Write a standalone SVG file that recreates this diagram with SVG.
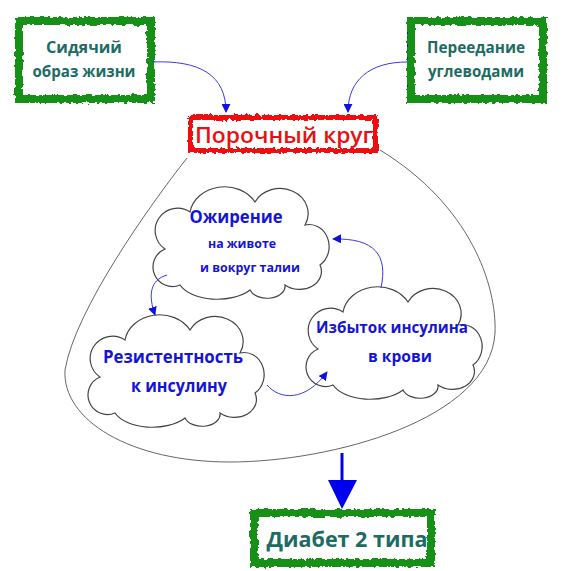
<svg xmlns="http://www.w3.org/2000/svg" xmlns:xlink="http://www.w3.org/1999/xlink" width="563" height="571" viewBox="0 0 563 571">
<defs>
<filter id="rough" x="-10%" y="-20%" width="120%" height="140%">
<feTurbulence type="fractalNoise" baseFrequency="0.25" numOctaves="2" seed="3" result="n"/>
<feDisplacementMap in="SourceGraphic" in2="n" scale="5" xChannelSelector="R" yChannelSelector="G"/>
</filter>
<marker id="ah" viewBox="0 0 10 10" refX="9" refY="5" markerWidth="9" markerHeight="9" markerUnits="userSpaceOnUse" orient="auto">
<path d="M0,0 L10,5 L0,10 Z" fill="#1010e0"/>
</marker>
<path id="cloud" d="M15,62 A22,22 0 0 1 40,25 A35,30 0 0 1 105,15 A28,25 0 0 1 155,38 A20,22 0 0 1 170,78 A22,18 0 0 1 135,98 A18,12 0 0 1 100,103 A40,22 0 0 1 30,98 A18,18 0 0 1 15,62 Z"/>
</defs>
<style>
.gbox{fill:none;stroke:#149014;stroke-width:8;filter:url(#rough)}
.rbox{fill:none;stroke:#f01010;stroke-width:5;filter:url(#rough)}
.gt{font-family:"Open Sans","Noto Sans",sans-serif;font-weight:bold;fill:#1d6b62;text-anchor:middle}
.bt{font-family:"Open Sans","Noto Sans",sans-serif;font-weight:bold;fill:#1414d4;text-anchor:middle}
.cl{fill:#fff;stroke:#444;stroke-width:1.2}
.con{fill:none;stroke:#3a3ae0;stroke-width:1}
</style>
<rect width="563" height="571" fill="#fff"/>
<g id="outline">
<path d="M187,158 C150,205 75,310 65,370 C62,420 130,462 230,462 C330,462 490,420 495,333 C497,285 470,205 380,150" fill="none" stroke="#555" stroke-width="0.9"/>
</g>
<g id="sidyachiy">
<rect x="19" y="21" width="132" height="78" fill="#fff"/>
<rect class="gbox" x="19" y="21" width="132" height="78"/>
<text class="gt" x="84" y="53" font-size="16" textLength="76" lengthAdjust="spacingAndGlyphs">Сидячий</text>
<text class="gt" x="84" y="77" font-size="16" textLength="103" lengthAdjust="spacingAndGlyphs">образ жизни</text>
</g>
<g id="pereedanie">
<line x1="408" y1="30" x2="408" y2="97" stroke="#1010e0" stroke-width="2"/>
<rect class="gbox" x="411" y="21" width="132" height="78" fill="#fff"/>
<text class="gt" x="476" y="53" font-size="16" textLength="98" lengthAdjust="spacingAndGlyphs">Переедание</text>
<text class="gt" x="476" y="77" font-size="16" textLength="96" lengthAdjust="spacingAndGlyphs">углеводами</text>
</g>
<g id="porochny">
<rect x="190.5" y="117.5" width="185" height="33" fill="#fff"/>
<rect class="rbox" x="190.5" y="117.5" width="185" height="33"/>
<text x="284" y="143" font-size="22" font-family="'Open Sans','Noto Sans',sans-serif" font-weight="600" fill="#e81010" text-anchor="middle" textLength="178" lengthAdjust="spacingAndGlyphs">Порочный круг</text>
</g>
<g id="ozhirenie">
<use href="#cloud" class="cl" transform="translate(150,187)"/>
<text class="bt" x="236" y="223" font-size="17.5" textLength="93" lengthAdjust="spacingAndGlyphs">Ожирение</text>
<text class="bt" x="242" y="248" font-size="13" textLength="68" lengthAdjust="spacingAndGlyphs">на животе</text>
<text class="bt" x="250" y="272" font-size="13" textLength="100" lengthAdjust="spacingAndGlyphs">и вокруг талии</text>
</g>
<g id="rezistentnost">
<use href="#cloud" class="cl" transform="translate(85,315)"/>
<text class="bt" x="173" y="363" font-size="18" textLength="140" lengthAdjust="spacingAndGlyphs">Резистентность</text>
<text class="bt" x="179" y="392" font-size="18" textLength="96" lengthAdjust="spacingAndGlyphs">к инсулину</text>
</g>
<g id="izbytok">
<use href="#cloud" class="cl" transform="translate(303,287)"/>
<text class="bt" x="392" y="333" font-size="16.5" textLength="152" lengthAdjust="spacingAndGlyphs">Избыток инсулина</text>
<text class="bt" x="400" y="362" font-size="16.5" textLength="64" lengthAdjust="spacingAndGlyphs">в крови</text>
</g>
<g id="diabet">
<rect x="254" y="513" width="177" height="50" fill="#fff"/>
<rect class="gbox" x="254" y="513" width="177" height="50"/>
<text class="gt" x="347" y="547" font-size="22" fill="#1a6e55" textLength="161" lengthAdjust="spacingAndGlyphs">Диабет 2 типа</text>
</g>
<g id="connectors">
<path class="con" d="M152,62 C200,60 226,75 226,112" marker-end="url(#ah)"/>
<path class="con" d="M407,62 C370,62 348,80 348,112" marker-end="url(#ah)"/>
<path class="con" d="M167,275 C150,280 148,295 155,315" marker-end="url(#ah)"/>
<path class="con" d="M267,385 C280,400 305,402 327,372" marker-end="url(#ah)"/>
<path class="con" d="M381,288 C388,255 375,238 333,239" marker-end="url(#ah)"/>
<line x1="342" y1="453" x2="342" y2="482" stroke="#0000ee" stroke-width="3"/>
<polygon points="328,480 357,480 342,509" fill="#0000ee"/>
</g>
</svg>
